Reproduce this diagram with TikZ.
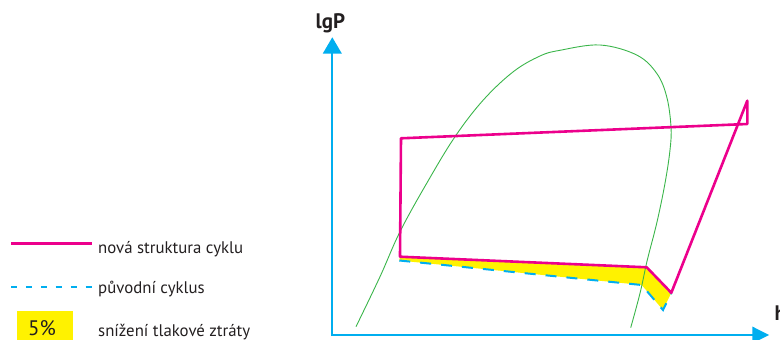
\documentclass[tikz,border=0pt]{standalone}
\usepackage{fontspec}
\setmainfont{PT Sans}
\definecolor{cyanP}{HTML}{00AEEF}
\definecolor{magP}{HTML}{EC008C}
\definecolor{yelP}{HTML}{FFF200}
\definecolor{grnP}{HTML}{3AB54A}
\definecolor{txtP}{HTML}{231F20}
\tikzset{
  axisline/.style={cyanP, line width=2.2pt},
  newcycle/.style={magP, line width=2.6pt, line join=round},
  oldcycle/.style={cyanP, line width=2pt, dash pattern=on 11pt off 10pt},
  legdash/.style={cyanP, line width=2pt, dash pattern=on 6.3pt off 8.6pt},
  dome/.style={grnP, line width=0.9pt},
  legtext/.style={anchor=base west, inner sep=0pt, text=txtP, font=\fontsize{16.8}{17}\selectfont},
  axtext/.style={anchor=base west, inner sep=0pt, text=txtP, font=\fontsize{21}{21}\selectfont\bfseries},
  tipP/.style={fill=cyanP, draw=none}
}
\begin{document}
\begin{tikzpicture}[x=1pt,y=-1pt]
\useasboundingbox (0,0) rectangle (780,340);
% cycle points
\coordinate (A) at (401,138.3);
\coordinate (B) at (400,256.7);
\coordinate (C) at (646.7,267.3);
\coordinate (D) at (671.3,292.8);
\coordinate (E) at (747.3,100.7);
\coordinate (F) at (747.3,124);
\coordinate (Bo) at (399.3,260.5);
\coordinate (Co) at (641.7,285);
\coordinate (Go) at (663,310);
% axes
\coordinate (O) at (332.3,335);
\coordinate (Ytip) at (332.3,37.3);
\coordinate (Xtip) at (769,335);
% yellow area
\fill[yelP] (B) -- (C) -- (D) -- (Go) -- (Co) -- (Bo) -- cycle;
% saturation dome
\draw[dome] plot[smooth, tension=0.6] coordinates {(356,326.7) (380,276.7) (400,231.7) (426.7,183.3) (455,136.7) (483.3,100) (513.3,71.7) (540,56) (560,50.3) (600,45) (636.7,55) (656.7,73.3) (666.7,96.7) (671,126.7) (670,150) (665,183.3) (656.7,223.3) (647.3,260) (640,293.3) (630.7,327.7)};
% old cycle
\draw[oldcycle] (Bo) -- (Co) -- (Go) -- (D);
% new cycle
\draw[newcycle] (A) -- (B) -- (C) -- (D) -- (E) -- (F) -- cycle;
% axes
\draw[axisline] (Ytip |- O) ++(0,1.1) -- (332.3,53);
\draw[axisline] (O) ++(-1.1,0) -- (753,335);
\fill[tipP] (Ytip) -- (322.8,53.5) -- (341.8,53.5) -- cycle;
\fill[tipP] (Xtip) -- (752.3,326.5) -- (752.3,343.5) -- cycle;
\node[axtext] (lgp) at (315.5,28.5) {lgP};
\node[axtext] (hlab) at (774.5,320) {h};
% legend
\coordinate (L1a) at (11,243.3);
\coordinate (L1b) at (92,243.3);
\draw[magP, line width=2.6pt] (L1a) -- (L1b);
\node[legtext] (t1) at (98,253.3) {nová struktura cyklu};
\coordinate (L2a) at (11,286.7);
\coordinate (L2b) at (93,286.7);
\draw[legdash] (L2a) -- (L2b);
\node[legtext] (t2) at (98,293) {původní cyklus};
\fill[yelP] (16.7,311) rectangle (73.3,339.5);
\node[anchor=base, inner sep=0pt, text=txtP, font=\fontsize{21}{21}\selectfont] (pct) at (42,335) {5\%};
\node[legtext] (t3) at (98,336.7) {snížení tlakové ztráty};
\end{tikzpicture}
\end{document}
